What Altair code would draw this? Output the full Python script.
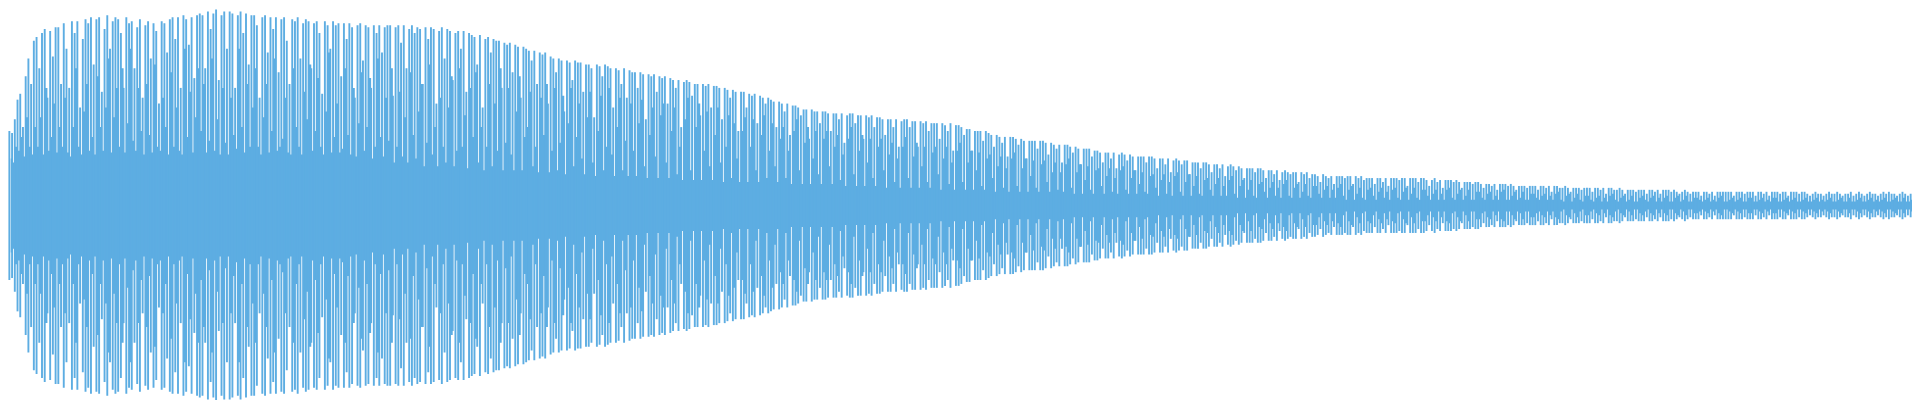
import altair as alt
import pandas as pd

# Amplitude of each waveform tip (percent of full scale), left to right
tips = [
    38, 37, 44, 54, 57, 40, 66, 75, 62, 84,
    86, 70, 88, 90, 55, 89, 76, 91, 91, 62,
    93, 80, 60, 94, 88, 94, 50, 85, 95, 93,
    96, 72, 95, 96, 58, 90, 97, 80, 94, 96,
    95, 88, 60, 96, 93, 94, 70, 91, 95, 55,
    92, 94, 75, 93, 89, 52, 94, 93, 78, 95,
    96, 85, 96, 60, 97, 95, 82, 96, 65, 97,
    98, 97, 70, 99, 90, 98, 100, 64, 97, 99,
    80, 99, 98, 60, 97, 99, 88, 98, 72, 97,
    97, 92, 55, 96, 97, 78, 96, 90, 96, 68,
    95, 96, 84, 62, 95, 94, 96, 75, 93, 95,
    94, 70, 93, 94, 88, 57, 94, 92, 80, 94,
    92, 93, 66, 93, 85, 93, 91, 55, 92, 93,
    74, 92, 91, 60, 92, 88, 92, 78, 91, 92,
    92, 56, 91, 92, 83, 92, 70, 90, 92, 88,
    91, 90, 62, 91, 85, 91, 90, 52, 89, 91,
    75, 90, 89, 64, 88, 89, 80, 89, 58, 88,
    87, 86, 72, 87, 50, 85, 86, 78, 85, 84,
    84, 60, 83, 82, 83, 68, 82, 81, 55, 81,
    80, 79, 74, 79, 62, 78, 77, 78, 52, 76,
    75, 68, 75, 74, 48, 74, 73, 64, 74, 73,
    73, 58, 72, 72, 70, 45, 72, 71, 66, 72,
    71, 70, 50, 70, 69, 62, 70, 55, 69, 68,
    68, 60, 68, 67, 44, 67, 66, 67, 58, 66,
    65, 66, 52, 65, 64, 60, 64, 40, 63, 64,
    63, 56, 62, 62, 46, 62, 61, 62, 50, 61,
    61, 60, 44, 60, 59, 55, 59, 58, 38, 58,
    58, 50, 57, 56, 57, 42, 56, 55, 52, 55,
    54, 53, 40, 53, 52, 48, 52, 36, 51, 51,
    50, 46, 49, 49, 34, 49, 48, 48, 42, 48,
    48, 47, 38, 47, 47, 44, 47, 32, 46, 47,
    47, 42, 46, 46, 34, 46, 45, 46, 40, 45,
    45, 44, 36, 44, 44, 40, 44, 30, 43, 44,
    44, 40, 43, 43, 30, 43, 42, 43, 38, 42,
    42, 42, 34, 42, 41, 38, 42, 28, 41, 41,
    40, 36, 39, 39, 28, 38, 38, 38, 33, 38,
    37, 36, 30, 36, 35, 32, 35, 25, 35, 35,
    34, 31, 34, 33, 24, 33, 33, 33, 29, 33,
    33, 32, 26, 32, 31, 29, 31, 22, 31, 31,
    30, 27, 30, 29, 21, 29, 29, 29, 25, 28,
    28, 27, 22, 27, 27, 24, 27, 19, 26, 27,
    26, 23, 26, 25, 18, 25, 25, 25, 22, 25,
    25, 24, 19, 24, 24, 21, 24, 17, 23, 24,
    23, 21, 23, 23, 16, 22, 22, 22, 19, 22,
    22, 21, 17, 21, 21, 19, 21, 15, 20, 21,
    20, 18, 20, 19, 14, 19, 19, 19, 17, 19,
    19, 18, 14, 18, 18, 16, 18, 13, 17, 18,
    17, 16, 17, 17, 12, 17, 16, 17, 14, 16,
    16, 15, 12, 16, 15, 14, 15, 11, 15, 15,
    15, 14, 15, 15, 11, 15, 14, 15, 13, 14,
    14, 14, 11, 14, 14, 12, 14, 10, 14, 14,
    14, 13, 14, 14, 10, 14, 14, 14, 12, 14,
    14, 13, 10, 13, 14, 12, 13, 9, 13, 13,
    13, 12, 13, 12, 9, 12, 12, 12, 11, 12,
    12, 11, 9, 11, 11, 10, 11, 8, 11, 11,
    11, 10, 11, 10, 8, 10, 10, 10, 9, 10,
    10, 10, 8, 10, 10, 9, 10, 7, 10, 10,
    9, 9, 10, 9, 7, 9, 9, 9, 8, 9,
    9, 9, 7, 9, 9, 8, 9, 6, 9, 9,
    8, 8, 9, 8, 6, 8, 8, 8, 7, 8,
    8, 8, 6, 8, 8, 7, 8, 6, 8, 8,
    8, 7, 8, 7, 6, 7, 8, 7, 6, 7,
    7, 7, 5, 7, 7, 6, 7, 5, 7, 7,
    7, 7, 7, 7, 5, 7, 7, 7, 6, 7,
    7, 7, 5, 7, 7, 6, 7, 5, 7, 7,
    7, 6, 7, 7, 5, 7, 7, 7, 6, 7,
    7, 6, 5, 6, 7, 6, 6, 5, 6, 7,
    6, 6, 7, 6, 5, 6, 6, 7, 5, 6,
    7, 6, 5, 6, 7, 6, 6, 5, 6, 7,
    6, 7, 6, 6, 5, 6, 7, 6, 5, 6,
]

# Depth of the notch that follows each tip (percent of full scale)
notches = [
    24, 22, 30, 28, 35, 25, 45, 30, 26, 40,
    30, 45, 26, 60, 28, 35, 52, 27, 40, 30,
    55, 27, 25, 40, 70, 30, 26, 48, 62, 28,
    35, 26, 66, 40, 28, 50, 75, 27, 45, 60,
    30, 70, 27, 42, 80, 33, 28, 60, 38, 26,
    62, 36, 27, 72, 30, 28, 55, 40, 26, 68,
    30, 50, 28, 26, 80, 35, 58, 27, 45, 70,
    38, 62, 27, 33, 75, 28, 44, 26, 60, 32,
    26, 55, 36, 29, 80, 40, 27, 62, 30, 50,
    70, 30, 26, 45, 62, 27, 38, 75, 28, 30,
    34, 55, 27, 26, 70, 40, 30, 26, 58, 44,
    72, 28, 38, 65, 30, 26, 48, 78, 27, 35,
    52, 27, 29, 70, 36, 26, 60, 25, 42, 68,
    28, 40, 65, 24, 30, 75, 35, 25, 55, 33,
    70, 22, 30, 58, 25, 45, 22, 68, 36, 24,
    48, 62, 20, 32, 72, 26, 40, 20, 55, 30,
    22, 50, 66, 20, 28, 70, 30, 46, 19, 60,
    35, 68, 22, 40, 18, 30, 62, 20, 52, 28,
    70, 18, 32, 60, 26, 18, 48, 66, 18, 35,
    40, 58, 20, 30, 17, 55, 36, 62, 17, 28,
    60, 18, 32, 56, 16, 42, 60, 20, 35, 52,
    24, 16, 45, 58, 22, 15, 38, 56, 18, 30,
    60, 26, 15, 40, 55, 18, 33, 15, 52, 28,
    15, 42, 54, 20, 14, 36, 50, 25, 14, 46,
    52, 22, 14, 38, 50, 16, 30, 13, 44, 55,
    18, 13, 40, 52, 13, 28, 48, 20, 13, 36,
    50, 22, 12, 30, 46, 14, 42, 24, 12, 38,
    45, 12, 30, 44, 18, 12, 36, 46, 14, 28,
    42, 20, 12, 34, 40, 14, 28, 11, 38, 44,
    18, 11, 32, 40, 11, 24, 38, 16, 11, 34,
    38, 20, 11, 30, 36, 13, 26, 10, 34, 40,
    16, 10, 28, 36, 10, 22, 34, 14, 10, 30,
    34, 18, 9, 26, 32, 12, 24, 9, 30, 35,
    14, 9, 25, 32, 9, 20, 30, 12, 9, 27,
    30, 16, 8, 24, 30, 11, 22, 8, 28, 32,
    12, 8, 22, 28, 8, 18, 27, 10, 8, 24,
    26, 14, 7, 20, 25, 9, 19, 7, 24, 27,
    10, 7, 19, 24, 7, 15, 23, 9, 7, 21,
    23, 12, 7, 17, 22, 8, 17, 7, 21, 24,
    9, 6, 17, 21, 6, 13, 20, 8, 6, 18,
    19, 10, 6, 15, 19, 7, 14, 6, 18, 20,
    8, 6, 14, 18, 6, 11, 17, 7, 6, 15,
    16, 9, 5, 13, 16, 6, 12, 5, 15, 17,
    7, 5, 12, 16, 5, 10, 15, 6, 5, 13,
    14, 8, 5, 11, 14, 5, 10, 5, 13, 15,
    6, 4, 10, 13, 4, 8, 13, 5, 4, 11,
    12, 7, 4, 9, 12, 5, 9, 4, 11, 13,
    5, 4, 9, 11, 4, 7, 11, 5, 4, 10,
    10, 6, 4, 8, 10, 4, 8, 4, 9, 11,
    5, 3, 8, 10, 3, 6, 9, 4, 3, 8,
    9, 5, 3, 7, 9, 4, 7, 3, 8, 9,
    4, 3, 7, 9, 3, 6, 9, 4, 3, 8,
    8, 5, 3, 6, 8, 3, 6, 3, 8, 9,
    4, 3, 6, 8, 3, 5, 8, 3, 3, 7,
    7, 4, 3, 6, 7, 3, 5, 3, 7, 8,
    3, 3, 5, 7, 3, 4, 7, 3, 3, 6,
    6, 4, 3, 5, 6, 3, 5, 3, 6, 7,
    3, 2, 5, 6, 2, 4, 6, 3, 2, 5,
    5, 3, 2, 4, 5, 2, 4, 2, 5, 6,
    3, 2, 4, 5, 2, 3, 5, 2, 2, 4,
    5, 3, 2, 4, 5, 2, 4, 2, 4, 5,
    2, 2, 4, 5, 2, 3, 5, 2, 2, 4,
    4, 3, 2, 3, 4, 2, 3, 2, 4, 5,
    2, 2, 3, 4, 2, 3, 4, 2, 2, 4,
    4, 2, 2, 3, 4, 2, 3, 2, 4, 4,
    2, 2, 3, 4, 2, 3, 4, 2, 2, 3,
    4, 2, 2, 3, 4, 2, 3, 2, 3, 4,
    2, 2, 3, 4, 2, 2, 4, 2, 2, 3,
    4, 2, 2, 3, 4, 2, 3, 2, 3, 4,
    2, 2, 3, 4, 2, 2, 4, 2, 2, 3,
]

n = len(tips)
df = pd.DataFrame({
    "slot": list(range(n)),
    "tip": tips,
    "notch": notches,
})

COLOR = "#5dade2"
xscale = alt.Scale(domain=[0, n], nice=False, zero=False)
yscale = alt.Scale(domain=[-98.2, 97.7], nice=False, zero=False)

base = alt.Chart(df)

# solid body between tips: one stepped band, so no seams
notch_layer = base.transform_calculate(
    xpos="datum.slot + 1", lo="-datum.notch"
).mark_area(interpolate="step", color=COLOR, opacity=1).encode(
    x=alt.X("xpos:Q", scale=xscale, axis=None),
    y=alt.Y("notch:Q", scale=yscale, axis=None),
    y2="lo:Q",
)

tip_layer = base.transform_calculate(
    xpos="datum.slot + 0.5", lo="-datum.tip"
).mark_rule(strokeWidth=1.9, color=COLOR).encode(
    x=alt.X("xpos:Q", scale=xscale, axis=None),
    y=alt.Y("tip:Q", scale=yscale, axis=None),
    y2="lo:Q",
)

chart = alt.layer(notch_layer, tip_layer).properties(
    width=1904, height=384, padding=0
).configure_view(stroke=None)

chart.save("out.html", embed_options={"renderer": "svg", "actions": False})
